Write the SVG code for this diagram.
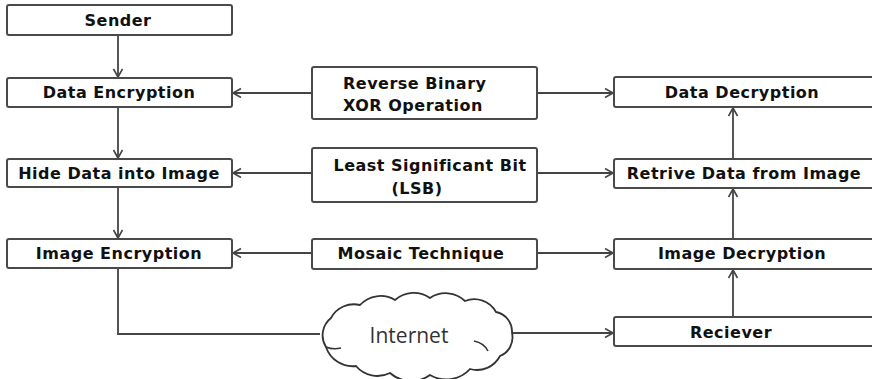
<svg xmlns="http://www.w3.org/2000/svg" width="872" height="379" viewBox="0 0 872 379">
<defs>
<marker id="arr" markerUnits="userSpaceOnUse" markerWidth="12" markerHeight="12" refX="9" refY="5" orient="auto">
<path d="M1,0.5 L9,5 L1,9.5" fill="none" stroke="#444" stroke-width="1.6"/>
</marker>
<style>
.box{fill:#fff;stroke:#4a4a4a;stroke-width:2}
.t{font-family:"DejaVu Sans",Verdana,sans-serif;font-weight:bold;font-size:16px;letter-spacing:0.5px;fill:#111;text-anchor:middle}
.c{fill:none;stroke:#444;stroke-width:1.8}
.cloudtxt{font-family:"Open Sans","Liberation Sans",sans-serif;font-size:21px;fill:#333;text-anchor:middle}
</style>
</defs>
<rect width="872" height="379" fill="#fff"/>
<g id="connectors">
<path class="c" d="M118,35 V77" marker-end="url(#arr)"/>
<path class="c" d="M118,107 V158" marker-end="url(#arr)"/>
<path class="c" d="M118,187 V238" marker-end="url(#arr)"/>
<path class="c" d="M312,93 H233" marker-end="url(#arr)"/>
<path class="c" d="M537,93 H613" marker-end="url(#arr)"/>
<path class="c" d="M312,173 H233" marker-end="url(#arr)"/>
<path class="c" d="M537,173 H613" marker-end="url(#arr)"/>
<path class="c" d="M312,253 H233" marker-end="url(#arr)"/>
<path class="c" d="M537,253 H613" marker-end="url(#arr)"/>
<path class="c" d="M118,268 V334 H320"/>
<path class="c" d="M512,333 H613" marker-end="url(#arr)"/>
<path class="c" d="M733,159 V108" marker-end="url(#arr)"/>
<path class="c" d="M733,239 V189" marker-end="url(#arr)"/>
<path class="c" d="M733,317 V270" marker-end="url(#arr)"/>
</g>
<g id="sender"><rect class="box" x="7" y="5" width="225" height="30" rx="2"/><text class="t" x="118" y="26">Sender</text></g>
<g id="data-encryption"><rect class="box" x="7" y="78" width="225" height="29" rx="2"/><text class="t" x="119" y="98">Data Encryption</text></g>
<g id="hide-data"><rect class="box" x="7" y="159" width="225" height="28" rx="2"/><text class="t" x="119" y="179">Hide Data into Image</text></g>
<g id="image-encryption"><rect class="box" x="7" y="239" width="225" height="29" rx="2"/><text class="t" x="119" y="259">Image Encryption</text></g>
<g id="reverse-binary"><rect class="box" x="312" y="67" width="225" height="52" rx="2"/><text class="t" x="343" y="89" style="text-anchor:start">Reverse Binary</text><text class="t" x="343" y="111" style="text-anchor:start">XOR Operation</text></g>
<g id="lsb"><rect class="box" x="312" y="148" width="225" height="54" rx="2"/><text class="t" x="430" y="171">Least Significant Bit</text><text class="t" x="417" y="194">(LSB)</text></g>
<g id="mosaic"><rect class="box" x="312" y="239" width="225" height="30" rx="2"/><text class="t" x="421" y="259">Mosaic Technique</text></g>
<g id="data-decryption"><rect class="box" x="614" y="77" width="262" height="30" rx="2"/><text class="t" x="742" y="98">Data Decryption</text></g>
<g id="retrive-data"><rect class="box" x="614" y="159" width="262" height="29" rx="2"/><text class="t" x="744" y="179">Retrive Data from Image</text></g>
<g id="image-decryption"><rect class="box" x="614" y="239" width="262" height="30" rx="2"/><text class="t" x="742" y="259">Image Decryption</text></g>
<g id="reciever"><rect class="box" x="614" y="317" width="262" height="29" rx="2"/><text class="t" x="731" y="338">Reciever</text></g>
<g id="internet">
<path fill="#fff" stroke="#333" stroke-width="1.8" d="M326,347 A22,22 0 0 1 331,318 A26,26 0 0 1 360,305 A28,28 0 0 1 395,300 A28,28 0 0 1 430,298 A28,28 0 0 1 465,301 A25,25 0 0 1 496,312 A20,20 0 0 1 512,333 A20,20 0 0 1 500,356 A26,26 0 0 1 470,369 A32,32 0 0 1 430,375 A32,32 0 0 1 390,373 A28,28 0 0 1 356,366 A28,28 0 0 1 326,347 Z"/>
<path fill="none" stroke="#333" stroke-width="1.6" d="M474,341 Q484,343 488,351"/>
<path fill="none" stroke="#333" stroke-width="1.6" d="M326,347 Q333,350 341,348"/>
<text class="cloudtxt" x="409" y="343">Internet</text>
</g>
</svg>
